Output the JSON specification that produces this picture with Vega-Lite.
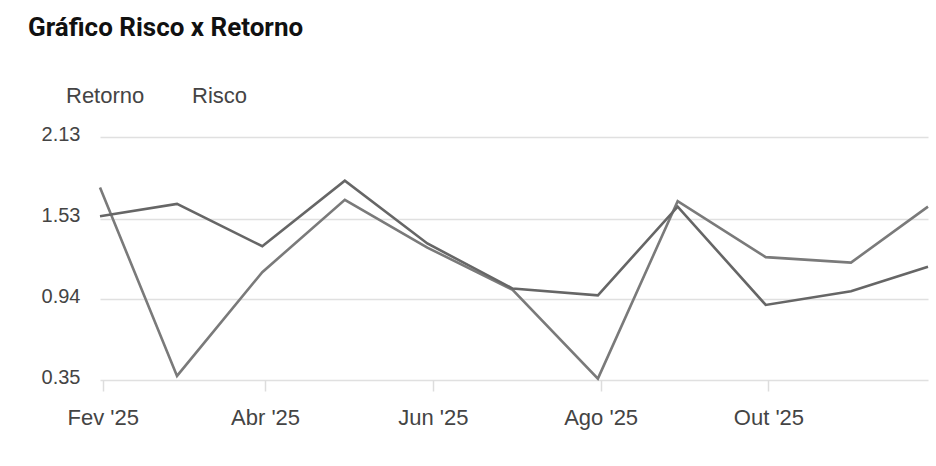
{
  "$schema": "https://vega.github.io/schema/vega-lite/v6.json",
  "autosize": "none",
  "padding": {"left": 100, "top": 137, "right": 8, "bottom": 86},
  "width": 828,
  "height": 243,
  "background": "white",
  "title": {
    "text": "Gráfico Risco x Retorno",
    "anchor": "start",
    "frame": "group",
    "dx": -72,
    "offset": 44,
    "font": "Roboto",
    "fontSize": 26,
    "fontWeight": "bold",
    "color": "#111111"
  },
  "data": {
    "values": [
      {"data": "2025/01/31", "serie": "Retorno", "valor": 1.76},
      {"data": "2025/02/28", "serie": "Retorno", "valor": 0.38},
      {"data": "2025/03/31", "serie": "Retorno", "valor": 1.14},
      {"data": "2025/04/30", "serie": "Retorno", "valor": 1.67},
      {"data": "2025/05/30", "serie": "Retorno", "valor": 1.32},
      {"data": "2025/06/30", "serie": "Retorno", "valor": 1.01},
      {"data": "2025/07/31", "serie": "Retorno", "valor": 0.36},
      {"data": "2025/08/29", "serie": "Retorno", "valor": 1.66},
      {"data": "2025/09/30", "serie": "Retorno", "valor": 1.25},
      {"data": "2025/10/31", "serie": "Retorno", "valor": 1.21},
      {"data": "2025/11/28", "serie": "Retorno", "valor": 1.62},
      {"data": "2025/01/31", "serie": "Risco", "valor": 1.55},
      {"data": "2025/02/28", "serie": "Risco", "valor": 1.64},
      {"data": "2025/03/31", "serie": "Risco", "valor": 1.33},
      {"data": "2025/04/30", "serie": "Risco", "valor": 1.81},
      {"data": "2025/05/30", "serie": "Risco", "valor": 1.35},
      {"data": "2025/06/30", "serie": "Risco", "valor": 1.02},
      {"data": "2025/07/31", "serie": "Risco", "valor": 0.97},
      {"data": "2025/08/29", "serie": "Risco", "valor": 1.62},
      {"data": "2025/09/30", "serie": "Risco", "valor": 0.9},
      {"data": "2025/10/31", "serie": "Risco", "valor": 1.0},
      {"data": "2025/11/28", "serie": "Risco", "valor": 1.18}
    ]
  },
  "mark": {"type": "line", "strokeWidth": 2.6, "interpolate": "linear"},
  "encoding": {
    "x": {
      "field": "data",
      "type": "temporal",
      "scale": {"nice": false},
      "axis": {
        "title": null,
        "grid": false,
        "domain": false,
        "ticks": true,
        "tickSize": 11,
        "tickWidth": 1.5,
        "tickColor": "#dddddd",
        "labelPadding": 16,
        "labelFont": "Liberation Sans",
        "labelFontSize": 22,
        "labelColor": "#444444",
        "values": [
          {"year": 2025, "month": 2, "date": 1},
          {"year": 2025, "month": 4, "date": 1},
          {"year": 2025, "month": 6, "date": 1},
          {"year": 2025, "month": 8, "date": 1},
          {"year": 2025, "month": 10, "date": 1}
        ],
        "labelExpr": "['Jan','Fev','Mar','Abr','Mai','Jun','Jul','Ago','Set','Out','Nov','Dez'][month(datum.value)] + \" '\" + timeFormat(datum.value, '%y')"
      }
    },
    "y": {
      "field": "valor",
      "type": "quantitative",
      "scale": {"domain": [0.35, 2.13], "nice": false, "zero": false},
      "axis": {
        "title": null,
        "domain": false,
        "ticks": false,
        "grid": true,
        "gridColor": "#e0e0e0",
        "gridWidth": 1.6,
        "values": [0.35, 0.94, 1.53, 2.13],
        "format": ".2f",
        "labelPadding": 20,
        "labelOffset": -3,
        "labelFont": "Liberation Sans",
        "labelFontSize": 20,
        "labelColor": "#444444"
      }
    },
    "color": {
      "field": "serie",
      "type": "nominal",
      "scale": {"domain": ["Retorno", "Risco"], "range": ["#7a7a7a", "#666666"]},
      "legend": {
        "title": null,
        "orient": "none",
        "direction": "horizontal",
        "legendX": -56,
        "legendY": -52,
        "symbolSize": 0,
        "symbolOpacity": 0,
        "symbolStrokeWidth": 0,
        "labelOffset": 0,
        "columnPadding": 25,
        "labelFont": "Liberation Sans",
        "labelFontSize": 22,
        "labelColor": "#444444"
      }
    }
  },
  "config": {"view": {"stroke": null}}
}
